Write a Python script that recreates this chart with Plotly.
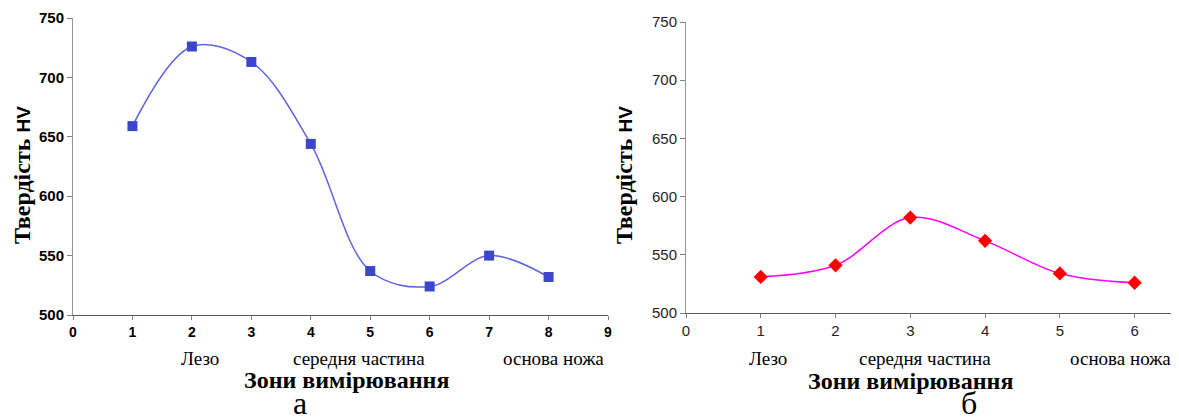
import plotly.graph_objects as go

# ---- data ----
zones_a = [1, 2, 3, 4, 5, 6, 7, 8]
hv_a = [659, 726, 713, 644, 537, 524, 550, 532]
zones_b = [1, 2, 3, 4, 5, 6]
hv_b = [531, 541, 582, 562, 534, 526]
y_ticks = [500, 550, 600, 650, 700, 750]
x_ticks_a = list(range(0, 10))
x_ticks_b = list(range(0, 7))
zone_labels = ["Лезо", "середня частина", "основа ножа"]
x_title = "Зони вимірювання"
y_title = "<b>Твердість <span style='font-family:Arial;font-size:19px'>HV</span></b>"
panel_labels = ["а", "б"]

W, H = 1179, 417
OFF = 8  # page body margin
FW, FH = W - OFF, H - OFF


def px(x):
    return (x - OFF) / FW


def py(y):
    return 1 - (y - OFF) / FH


fig = go.Figure()
fig.add_trace(go.Scatter(
    x=zones_a, y=hv_a, mode="lines+markers", xaxis="x", yaxis="y",
    line=dict(color="rgb(95,100,222)", width=1.5, shape="spline", smoothing=1),
    marker=dict(symbol="square", size=10, color="rgb(60,70,205)"),
    showlegend=False))
fig.add_trace(go.Scatter(
    x=zones_b, y=hv_b, mode="lines+markers", xaxis="x2", yaxis="y2",
    line=dict(color="rgb(255,0,255)", width=1.5, shape="spline", smoothing=1),
    marker=dict(symbol="diamond", size=11, color="rgb(255,0,0)"),
    showlegend=False))

xaxis_common = dict(showgrid=False, zeroline=False, showline=True, automargin=False,
                    linecolor="rgb(90,90,90)", linewidth=1,
                    ticks="outside", ticklen=4, tickcolor="rgb(130,130,130)")
yaxis_common = dict(showgrid=False, zeroline=False, showline=True, automargin=False,
                    linecolor="rgb(150,150,150)", linewidth=1,
                    ticks="outside", ticklen=5, tickcolor="rgb(130,130,130)")

fig.update_layout(
    width=FW, height=FH, margin=dict(l=0, r=0, t=0, b=0, pad=0),
    paper_bgcolor="white", plot_bgcolor="white",
    xaxis=dict(domain=[px(73), px(608)], range=[0, 9], tickvals=x_ticks_a,
               anchor="y",
               tickfont=dict(family="Arial", size=14, color="black", weight="bold"),
               **xaxis_common),
    yaxis=dict(domain=[py(315), py(18)], range=[500, 750], tickvals=y_ticks,
               anchor="x",
               tickfont=dict(family="Arial", size=15, color="black", weight="bold"),
               **yaxis_common),
    xaxis2=dict(domain=[px(686), px(1172)], range=[0, 6.5], tickvals=x_ticks_b,
                anchor="y2",
                tickfont=dict(family="Arial", size=15, color="rgb(30,30,30)"),
                **xaxis_common),
    yaxis2=dict(domain=[py(313), py(22)], range=[500, 750], tickvals=y_ticks,
                anchor="x2",
                tickfont=dict(family="Arial", size=15, color="rgb(30,30,30)"),
                **yaxis_common),
)

ann = []
serif = "Liberation Serif"
# y titles
ann.append(dict(x=px(22), y=py(175), text=y_title, textangle=-90, showarrow=False,
                font=dict(family=serif, size=24, color="black")))
ann.append(dict(x=px(624), y=py(175), text=y_title, textangle=-90, showarrow=False,
                font=dict(family=serif, size=24, color="black")))
# zone labels
for xpos, t in zip([200, 359, 553], zone_labels):
    ann.append(dict(x=px(xpos), y=py(358), text=t, showarrow=False,
                    font=dict(family=serif, size=19, color="black")))
for xpos, t in zip([768, 925, 1120], zone_labels):
    ann.append(dict(x=px(xpos), y=py(358), text=t, showarrow=False,
                    font=dict(family=serif, size=19, color="black")))
# x titles
ann.append(dict(x=px(346), y=py(380), text="<b>" + x_title + "</b>", showarrow=False,
                font=dict(family=serif, size=24, color="black")))
ann.append(dict(x=px(910), y=py(381), text="<b>" + x_title + "</b>", showarrow=False,
                font=dict(family=serif, size=24, color="black")))
# panel letters
ann.append(dict(x=px(300), y=py(403), text=panel_labels[0], showarrow=False,
                font=dict(family=serif, size=32, color="black")))
ann.append(dict(x=px(969), y=py(403), text=panel_labels[1], showarrow=False,
                font=dict(family=serif, size=32, color="black")))
for a in ann:
    a.update(xref="paper", yref="paper", xanchor="center", yanchor="middle")
fig.update_layout(annotations=ann)

fig.write_html("out.html")
